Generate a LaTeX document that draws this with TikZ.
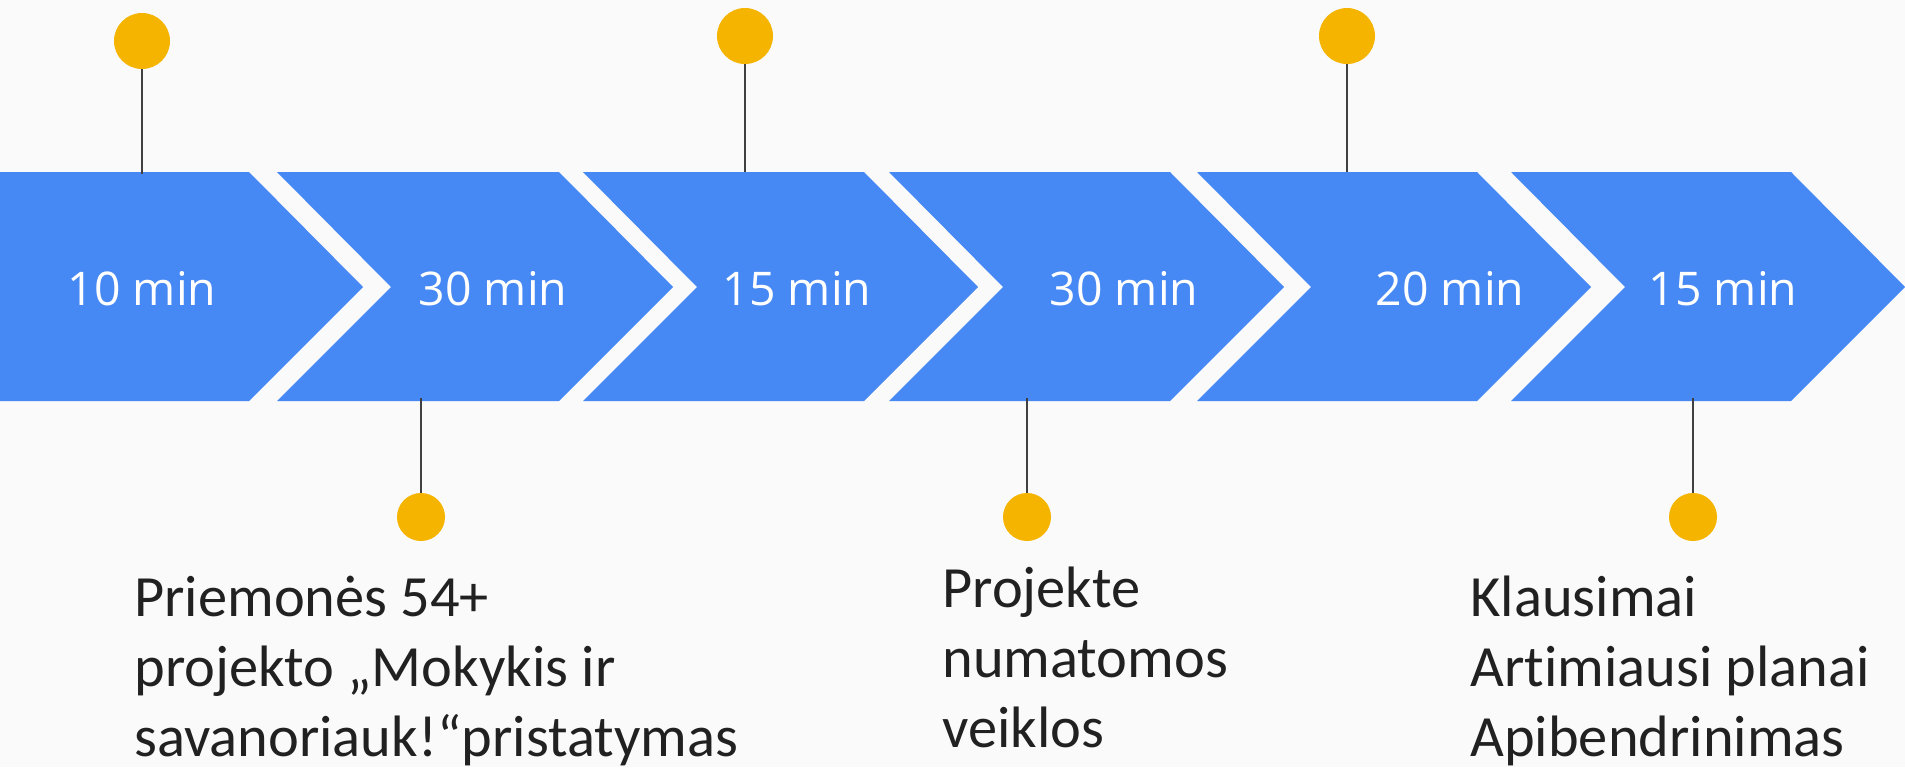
\documentclass[tikz,border=0pt]{standalone}
\usepackage{fontspec}
\setmainfont{Carlito}[Ligatures={NoCommon,TeX}]
\newfontfamily\labelfont{Open Sans}
\definecolor{chevblue}{HTML}{4688F4}
\definecolor{dotyellow}{HTML}{F4B400}
\definecolor{bgray}{HTML}{FAFAFA}
\definecolor{stemgray}{HTML}{404040}
\definecolor{notetext}{HTML}{212121}

\begin{document}
\begin{tikzpicture}[x=0.5pt, y=-0.5pt,
        chev/.style={fill=chevblue},
        minlabel/.style={text=white, font=\labelfont\fontsize{23.2}{28}\selectfont, anchor=base},
        topdot/.style={circle, fill=dotyellow, inner sep=0pt, minimum size=28pt},
        botdot/.style={circle, fill=dotyellow, inner sep=0pt, minimum size=24pt},
        stem/.style={draw=stemgray, line width=1pt},
        note/.style={text=notetext, font=\fontsize{29.2}{35}\selectfont, align=left, anchor=base west, inner sep=0pt}]
        \useasboundingbox (0, 0) rectangle (1905, 767);
        \fill [bgray] (0, 0) rectangle (1905, 767);
        \fill [chev] (0, 172) -- (249, 172) -- (363, 287) -- (249, 401) -- (0, 401) -- cycle;
        \foreach \l/\r in {277/559, 583/864, 889/1170, 1197/1477, 1511/1791}
            \fill [chev] (\l, 172) -- (\r, 172) -- (\r+114, 287) -- (\r, 401) -- (\l, 401) -- (\l+114, 287) -- cycle;
        \node [minlabel] (m1) at (142, 305) {10 min};
        \node [minlabel] (m2) at (493, 305) {30 min};
        \node [minlabel] (m3) at (797, 305) {15 min};
        \node [minlabel] (m4) at (1124, 305) {30 min};
        \node [minlabel] (m5) at (1450, 305) {20 min};
        \node [minlabel] (m6) at (1723, 305) {15 min};
        \node [topdot] (d1) at (142, 41) {};
        \node [topdot] (d3) at (745, 36) {};
        \node [topdot] (d5) at (1347, 36) {};
        \node [botdot] (d2) at (421, 517) {};
        \node [botdot] (d4) at (1027, 517) {};
        \node [botdot] (d6) at (1693, 517) {};
        \coordinate (e1) at (142, 174);
        \coordinate (e3) at (745, 172);
        \coordinate (e5) at (1347, 172);
        \coordinate (e2) at (421, 398);
        \coordinate (e4) at (1027, 398);
        \coordinate (e6) at (1693, 398);
        \draw [stem] (d1) -- (e1);
        \draw [stem] (d3) -- (e3);
        \draw [stem] (d5) -- (e5);
        \draw [stem] (e2) -- (d2);
        \draw [stem] (e4) -- (d4);
        \draw [stem] (e6) -- (d6);
        \node [note] (n1) at (134, 756) {Priemonės 54+\\projekto „Mokykis ir\\savanoriauk!“pristatymas};
        \node [note] (n2) at (942, 747) {Projekte\\numatomos\\veiklos};
        \node [note] (n3) at (1470, 756) {Klausimai\\Artimiausi planai\\Apibendrinimas};
    \end{tikzpicture}
\end{document}
